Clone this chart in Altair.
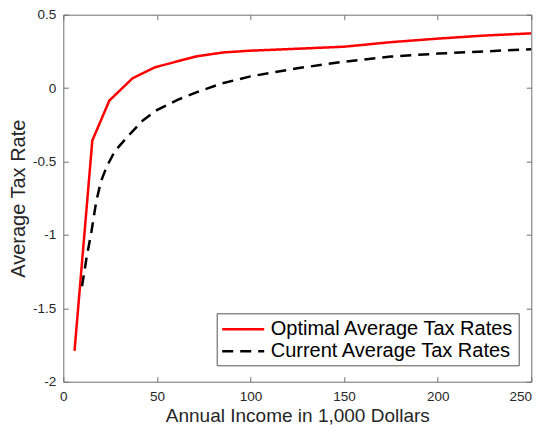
import altair as alt
import pandas as pd

series_names = ["Optimal Average Tax Rates", "Current Average Tax Rates"]

x_opt = [6, 15.5, 24.6, 37, 49, 71, 85.5, 100, 125, 150, 175, 200, 225, 250]
y_opt = [-1.79, -0.357, -0.085, 0.067, 0.142, 0.216, 0.243, 0.255, 0.268, 0.282, 0.313, 0.337, 0.358, 0.373]

x_cur = [10, 12.5, 15, 17.5, 20, 23, 27.5, 34, 42.5, 50, 61, 73, 85, 100, 125, 150, 175, 200, 225, 250]
y_cur = [-1.35, -1.15, -0.98, -0.78, -0.64, -0.54, -0.43, -0.335, -0.22, -0.15, -0.08, -0.02, 0.033, 0.08, 0.135, 0.18, 0.215, 0.235, 0.25, 0.265]

x_ticks = [0, 50, 100, 150, 200, 250]
y_ticks = [-2, -1.5, -1, -0.5, 0, 0.5]

df = pd.concat([
    pd.DataFrame({"income": x_opt, "rate": y_opt, "series": series_names[0]}),
    pd.DataFrame({"income": x_cur, "rate": y_cur, "series": series_names[1]}),
])

FONT = "Liberation Sans"
FRAME = "#707070"
TXT = "#262626"

xs = alt.Scale(domain=[0, 250], nice=False, zero=False)
ys = alt.Scale(domain=[-2, 0.5], nice=False, zero=False)

leg = alt.Legend(title=None, orient="none", legendX=153.4, legendY=298.6)

lines = alt.Chart(df).mark_line(strokeWidth=2.5, clip=True).encode(
    x=alt.X("income:Q", scale=xs, axis=alt.Axis(
        values=x_ticks, orient="bottom", offset=-5, tickSize=5, domain=False,
        labelPadding=7.5, labelFlush=False, labelOverlap=False,
        labelOffset=alt.condition("datum.value == 250", alt.value(-11), alt.value(0)),
        title="Annual Income in 1,000 Dollars", titleBaseline="alphabetic",
        titleFontSize=19, titleY=44.3, titleX=234)),
    y=alt.Y("rate:Q", scale=ys, axis=alt.Axis(
        values=y_ticks, orient="left", offset=-5, tickSize=5, domain=False,
        labelPadding=7.5, labelExpr="datum.value + ''", labelOverlap=False,
        title="Average Tax Rate", titleBaseline="alphabetic",
        titleX=-43.5, titleY=183.5, titleAngle=270)),
    color=alt.Color("series:N", scale=alt.Scale(domain=series_names, range=["#ff0000", "#000000"]), legend=leg),
    strokeDash=alt.StrokeDash("series:N", scale=alt.Scale(domain=series_names, range=[[1, 0], [11, 7]]), legend=leg),
)

ticks = alt.Chart(df).mark_point(opacity=0).encode(
    x=alt.X("income:Q", scale=xs, axis=alt.Axis(
        values=x_ticks, orient="top", offset=-5, tickSize=5, domain=False,
        labels=False, title=None)),
    y=alt.Y("rate:Q", scale=ys, axis=alt.Axis(
        values=y_ticks, orient="right", offset=-5, tickSize=5, domain=False,
        labels=False, title=None)),
)

chart = alt.layer(lines, ticks).properties(
    width=468, height=367,
    autosize=alt.AutoSizeParams(type="none"),
    padding={"left": 55.3, "top": 6.7, "right": 4.7, "bottom": 43.3},
).configure_view(
    stroke=FRAME, strokeWidth=1
).configure_axis(
    tickColor=FRAME, tickWidth=1, grid=False,
    labelFont=FONT, labelFontSize=13.5, labelColor=TXT,
    titleFont=FONT, titleFontSize=20, titleColor=TXT, titleFontWeight="normal",
).configure_legend(
    labelFont=FONT, labelFontSize=20, labelColor="#000000", labelLimit=400,
    symbolType="M-2,0H2", symbolSize=441, symbolStrokeWidth=2.5,
    symbolOffset=10.5, labelOffset=15.5, padding=4, rowPadding=0,
    strokeColor="#555555", fillColor="#ffffff",
)

chart.save("out.html", embed_options={"renderer": "svg", "actions": False})
